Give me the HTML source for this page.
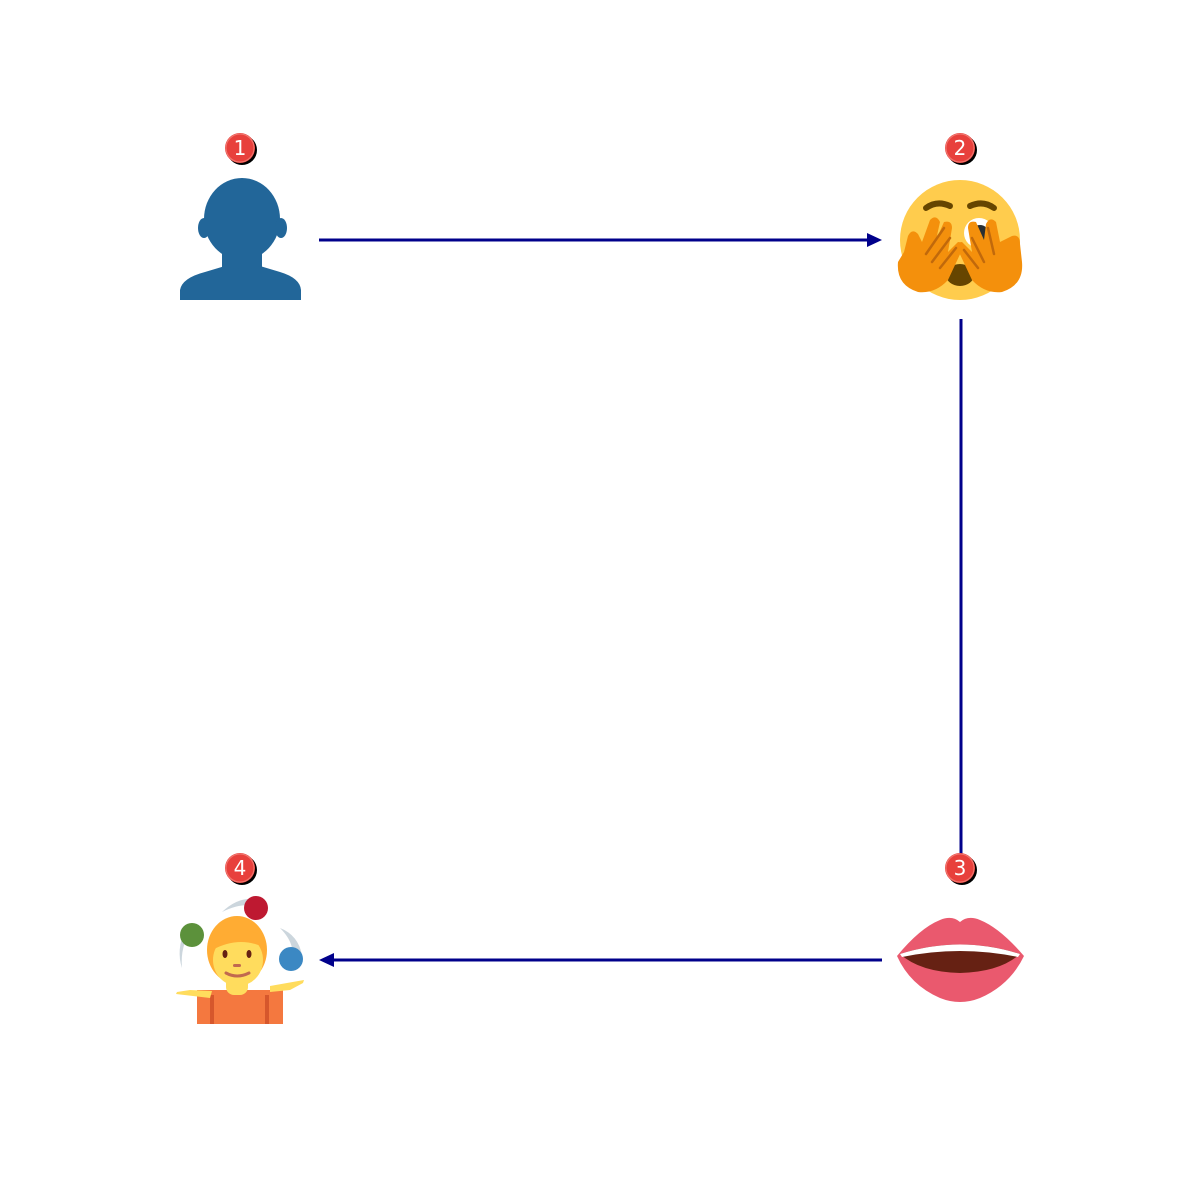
<!DOCTYPE html>
<html><head><meta charset="utf-8"><style>html,body{margin:0;padding:0;background:#fff;width:1200px;height:1200px;overflow:hidden}</style></head>
<body>
<svg width="1200" height="1200" viewBox="0 0 1200 1200" xmlns="http://www.w3.org/2000/svg" font-family="'DejaVu Sans','Liberation Sans',sans-serif">
<defs>
<g id="badge"><circle cx="2" cy="2" r="15" fill="#000"/><circle r="15" fill="#e8403c"/><circle r="14" fill="none" stroke="#f27a72" stroke-width="1"/></g>
</defs>
<line x1="319" y1="240" x2="870" y2="240" stroke="#00008b" stroke-width="3"/>
<polygon points="882,240 867,233 867,247" fill="#00008b"/>
<line x1="961" y1="319" x2="961" y2="856" stroke="#00008b" stroke-width="3"/>
<line x1="882" y1="960" x2="331" y2="960" stroke="#00008b" stroke-width="3"/>
<polygon points="319,960 334,953 334,967" fill="#00008b"/>

<g fill="#226699">
<ellipse cx="242" cy="219" rx="38" ry="41"/>
<ellipse cx="204" cy="228" rx="6" ry="10"/>
<ellipse cx="281" cy="228" rx="6" ry="10"/>
<rect x="222" y="240" width="40" height="32"/>
<path d="M180 300 L180 290 Q182 278 205 272 L225 266 Q242 272 260 266 L280 272 Q300 278 301 290 L301 300 Z"/>
</g>

<circle cx="960" cy="240" r="60" fill="#ffcc4d"/>
<path d="M926 208 Q937 200 950 206" stroke="#664500" stroke-width="6" fill="none" stroke-linecap="round"/>
<path d="M970 206 Q983 200 994 208" stroke="#664500" stroke-width="6" fill="none" stroke-linecap="round"/>
<circle cx="979" cy="233" r="15" fill="#fff"/>
<circle cx="980" cy="234" r="9" fill="#292f33"/>
<ellipse cx="960" cy="275" rx="14" ry="11" fill="#664500"/>
<path d="M898 262 Q896 285 918 292 Q935 294 948 280 L962 250 Q964 242 958 242 L948 252 L952 228 Q952 220 944 222 L936 240 L940 222 Q936 214 930 220 L922 242 L918 234 Q912 228 908 236 L904 252 Z" fill="#f4900c"/>
<path d="M1022 262 Q1024 285 1002 292 Q985 294 972 280 L958 250 Q956 242 962 242 L972 252 L968 228 Q968 220 976 222 L984 240 L986 224 Q990 216 996 222 L1000 242 L1012 236 Q1020 234 1020 244 Z" fill="#f4900c"/>
<g stroke="#c1690b" stroke-width="2.5" stroke-linecap="round">
<line x1="926" y1="254" x2="944" y2="228"/><line x1="932" y1="262" x2="950" y2="238"/><line x1="940" y1="268" x2="956" y2="248"/>
<line x1="994" y1="254" x2="988" y2="228"/><line x1="984" y1="262" x2="972" y2="238"/><line x1="978" y1="268" x2="964" y2="250"/>
</g>

<path d="M897 956 Q920 928 940 920 Q952 915 960 922 Q968 915 980 920 Q1000 928 1024 956 Q1010 985 980 998 Q960 1006 940 998 Q910 985 897 956 Z" fill="#ea596e"/>
<path d="M900 954 Q960 935 1020 954 Q1000 972 960 973 Q920 972 900 954 Z" fill="#662113"/>
<path d="M900 954 Q960 935 1020 954 L1018 957 Q960 945 902 957 Z" fill="#fff"/>

<path d="M185 930 Q176 950 182 968 Q180 945 192 930 Z" fill="#ccd6dd"/>
<path d="M222 912 Q240 895 258 900 L248 905 Q236 905 222 912 Z" fill="#ccd6dd"/>
<path d="M280 928 Q298 935 302 955 L292 948 Q290 938 280 928 Z" fill="#ccd6dd"/>
<rect x="197" y="990" width="86" height="34" fill="#f4783f"/>
<rect x="210" y="995" width="4" height="29" fill="#d6572c"/><rect x="265" y="995" width="4" height="29" fill="#d6572c"/>
<path d="M176 994 L210 998 L212 991 L190 990 L177 992 Z" fill="#ffdc5d"/>
<path d="M304 980 L270 986 L270 992 L290 990 L303 983 Z" fill="#ffdc5d"/>
<rect x="226" y="975" width="22" height="20" rx="8" fill="#ffdc5d"/>
<ellipse cx="237" cy="950" rx="30" ry="34" fill="#ffac33"/>
<ellipse cx="238" cy="960" rx="25" ry="26" fill="#ffdc5d"/>
<path d="M212 950 Q225 920 262 935 L265 948 Q240 935 212 950 Z" fill="#ffac33"/>
<ellipse cx="225" cy="954" rx="2.5" ry="4" fill="#662113"/>
<ellipse cx="249" cy="954" rx="2.5" ry="4" fill="#662113"/>
<rect x="233" y="964" width="8" height="3" rx="1.5" fill="#c1694f"/>
<path d="M226 973 Q237 979 249 973" stroke="#c1694f" stroke-width="3" fill="none" stroke-linecap="round"/>
<circle cx="192" cy="935" r="12" fill="#5c913b"/>
<circle cx="256" cy="908" r="12" fill="#be1931"/>
<circle cx="291" cy="959" r="12" fill="#3b88c3"/>

<g transform="translate(240,148)"><use href="#badge"/><text y="7" text-anchor="middle" font-size="20" fill="#fff">1</text></g>
<g transform="translate(960,148)"><use href="#badge"/><text y="7" text-anchor="middle" font-size="20" fill="#fff">2</text></g>
<g transform="translate(960,868)"><use href="#badge"/><text y="7" text-anchor="middle" font-size="20" fill="#fff">3</text></g>
<g transform="translate(240,868)"><use href="#badge"/><text y="7" text-anchor="middle" font-size="20" fill="#fff">4</text></g>
</svg>
</body></html>
